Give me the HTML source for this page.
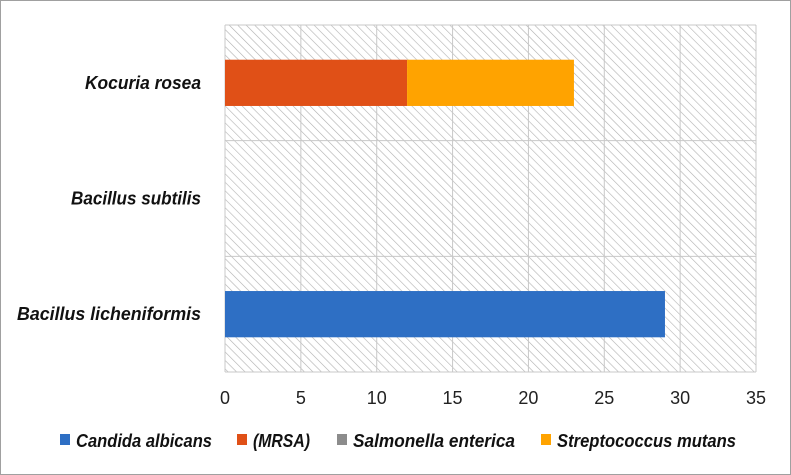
<!DOCTYPE html>
<html><head><meta charset="utf-8"><style>
body{margin:0;background:#fff;}
svg{display:block;font-family:"Liberation Sans",sans-serif;}
</style></head><body>
<svg width="791" height="475">
<defs><pattern id="hatch" width="6" height="6" patternUnits="userSpaceOnUse" patternTransform="rotate(-45)">
<line x1="0" y1="0" x2="0" y2="6" stroke="#b0b0b0" stroke-width="1.2"/></pattern></defs>
<rect x="0.5" y="0.5" width="790" height="474" fill="#fff" stroke="#a0a0a0"/>
<g id="plot"></g>
</svg>
<script>
const categories=["Bacillus licheniformis","Bacillus subtilis","Kocuria rosea"];
const seriesNames=["Candida albicans","(MRSA)","Salmonella enterica","Streptococcus mutans"];
const colors=["#2e6fc4","#e05017","#8c8c8c","#ffa300"];
const candida=[29,0,0];
const mrsa=[0,0,12];
const salmonella=[0,0,0];
const strep=[0,0,11];
const ticks=[0,5,10,15,20,25,30,35];
const L=225,R=756,T=25,B=372,max=35;
const x=v=>L+(R-L)*v/max;
const bandH=(B-T)/categories.length;
const yBand=i=>B-(i+1)*bandH;
const ns="http://www.w3.org/2000/svg";
const g=document.getElementById('plot');
function el(t,a,p){const e=document.createElementNS(ns,t);for(const k in a)e.setAttribute(k,a[k]);(p||g).appendChild(e);return e;}
const bg=el('rect',{x:L,y:T,width:R-L,height:B-T,fill:'url(#hatch)'});


ticks.forEach(t=>{const ln=el('line',{x1:x(t),x2:x(t),y1:T,y2:B,stroke:'#c8c8c8'});


const tx=el('text',{x:x(t),y:404,'text-anchor':'middle','font-size':18,fill:'#222'});tx.textContent=t;

});
for(let i=0;i<=categories.length;i++){const ln=el('line',{x1:L,x2:R,y1:B-i*bandH,y2:B-i*bandH,stroke:'#c8c8c8'});

}
const all=[candida,mrsa,salmonella,strep];
const labelLen=[184,130,116];
categories.forEach((c,i)=>{
const tx=el('text',{x:201,y:yBand(i)+bandH/2+6,'text-anchor':'end','font-size':18,'font-weight':'bold','font-style':'italic',fill:'#111',textLength:labelLen[i],lengthAdjust:'spacingAndGlyphs'});tx.textContent=c;


let acc=0;
all.forEach((s,k)=>{const v=s[i];if(v>0){const r=el('rect',{x:x(acc),y:yBand(i)+bandH*0.3,width:x(acc+v)-x(acc),height:bandH*0.4,fill:colors[k]});

}acc+=v;});
});
const lx=[60,237,337,541];
const lw=[136,57,162,179];
seriesNames.forEach((n,k)=>{
const r=el('rect',{x:lx[k],y:434,width:10,height:11,fill:colors[k]});


const tx=el('text',{x:lx[k]+16,y:447,'font-size':18,'font-weight':'bold','font-style':'italic',fill:'#111',textLength:lw[k],lengthAdjust:'spacingAndGlyphs'});tx.textContent=n;

});
</script>
</body></html>
